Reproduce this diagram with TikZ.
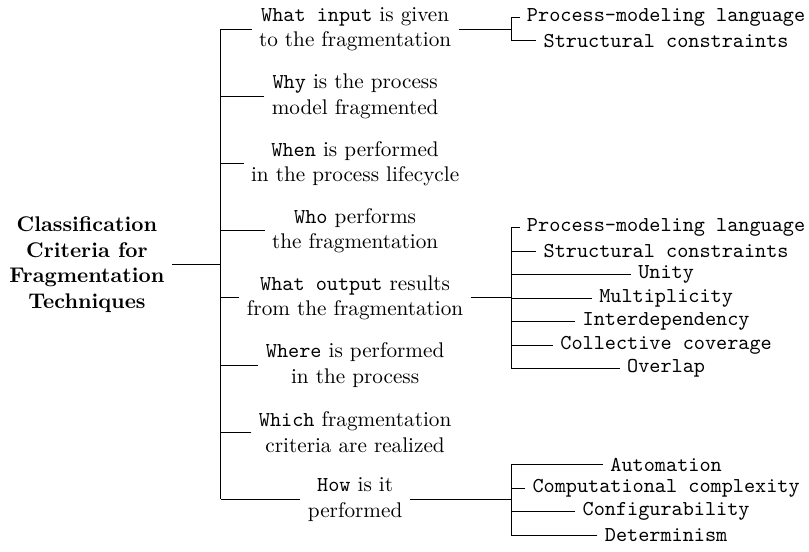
\documentclass[tikz,border=0pt]{standalone}
\usetikzlibrary{positioning}
\tikzstyle{crit}=[align=center, node distance=31.7pt]
\tikzstyle{leaf}=[font=\ttfamily, node distance=11.1pt]
\tikzstyle{rootnode}=[align=center, font=\bfseries]

\begin{document}
\begin{tikzpicture}
		\useasboundingbox (0,0) rectangle (381.6pt,-259.9pt);
		\coordinate(sx) at (104.2pt,0);
		\coordinate(lx) at (241pt,0);

		\node(root) [rootnode] at (41pt,-124.8pt) {Classification\\Criteria for\\Fragmentation\\Techniques};

		\node(q1) [crit] at (167.5pt,-13.7pt) {\texttt{What input} is given\\to the fragmentation};
		\node(q2) [crit, below of = q1] {\texttt{Why} is the process\\model fragmented};
		\node(q3) [crit, below of = q2] {\texttt{When} is performed\\in the process lifecycle};
		\node(q4) [crit, below of = q3] {\texttt{Who} performs\\the fragmentation};
		\node(q5) [crit, below of = q4] {\texttt{What output} results\\from the fragmentation};
		\node(q6) [crit, below of = q5] {\texttt{Where} is performed\\in the process};
		\node(q7) [crit, below of = q6] {\texttt{Which} fragmentation\\criteria are realized};
		\node(q8) [crit, below of = q7] {\texttt{How} is it\\performed};

		\draw (root.east |- root.center) -- (root.center -| sx);
		\draw (q1.center -| sx) -- (q8.center -| sx);
		\foreach \i in {1,...,8}
			\draw (q\i.west) -- (q\i.west -| sx);

		\node(in1) [leaf] at (314.2pt,-8.1pt) {Process-modeling language};
		\node(in2) [leaf, below of = in1] {Structural constraints};

		\node(out1) [leaf] at (314.2pt,-107.3pt) {Process-modeling language};
		\node(out2) [leaf, below of = out1] {Structural constraints};
		\node(out3) [leaf, below of = out2] {Unity};
		\node(out4) [leaf, below of = out3] {Multiplicity};
		\node(out5) [leaf, below of = out4] {Interdependency};
		\node(out6) [leaf, below of = out5] {Collective coverage};
		\node(out7) [leaf, below of = out6] {Overlap};

		\node(how1) [leaf] at (314.2pt,-219.2pt) {Automation};
		\node(how2) [leaf, below of = how1] {Computational complexity};
		\node(how3) [leaf, below of = how2] {Configurability};
		\node(how4) [leaf, below of = how3] {Determinism};

		\draw (q1.east) -- (q1.east -| lx);
		\draw (q5.east) -- (q5.east -| lx);
		\draw (q8.east) -- (q8.east -| lx);

		\draw (in1.center -| lx) -- (in2.center -| lx);
		\draw (out1.center -| lx) -- (out7.center -| lx);
		\draw (how1.center -| lx) -- (how4.center -| lx);
		\foreach \n in {in1,in2,out1,out2,out3,out4,out5,out6,out7,how1,how2,how3,how4}
			\draw (\n.west) -- (\n.west -| lx);
\end{tikzpicture}
\end{document}
